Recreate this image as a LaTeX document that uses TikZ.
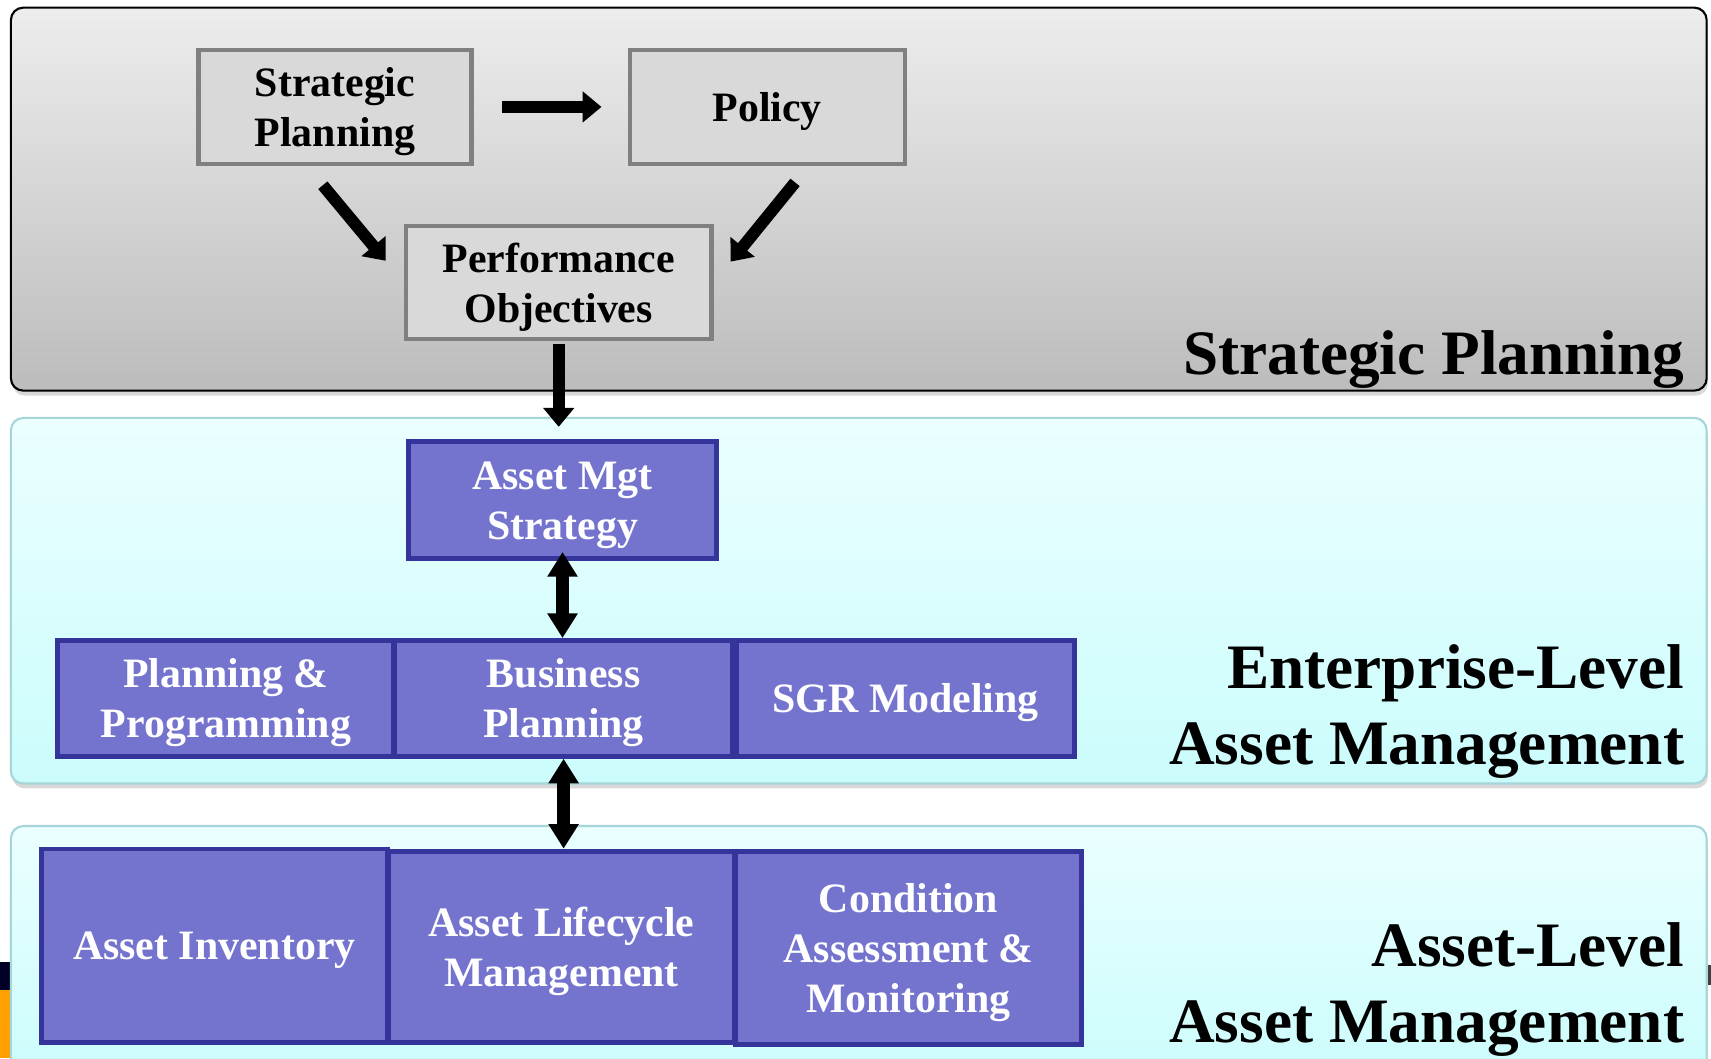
\documentclass[tikz,border=0pt]{standalone}
\usepackage{fontspec}
\setmainfont{Liberation Serif}
\usepackage{xcolor}
\usepackage{tikz}
\usetikzlibrary{calc, arrows.meta, shadows}

\newlength{\pxu}
\setlength{\pxu}{0.010912cm}
\definecolor{boxgray}{HTML}{D9D9D9}
\definecolor{boxedge}{HTML}{808080}
\definecolor{mgtblue}{HTML}{7474CF}
\definecolor{mgtedge}{HTML}{34349A}
\definecolor{bandtop}{HTML}{EDEDED}
\definecolor{bandbot}{HTML}{BCBCBC}
\definecolor{cyantop}{HTML}{EBFFFF}
\definecolor{cyanbot}{HTML}{CBFCFC}
\definecolor{cyanedge}{HTML}{A5D5D9}

\begin{document}
\begin{tikzpicture}[x=0.010912cm, y=-0.010912cm,
    boxtext/.style={font=\fontsize{11.9pt}{14.2pt}\selectfont\bfseries, align=center,
      text depth=-1.1pt, inner sep=0pt},
    graybox/.style={boxtext, rectangle, draw=boxedge, fill=boxgray, line width=1.2pt},
    bluebox/.style={boxtext, rectangle, draw=mgtedge, fill=mgtblue, text=white, line width=1.4pt},
    band/.style={rounded corners=3.5pt, line width=0.6pt,
      drop shadow={shadow xshift=0.4pt, shadow yshift=-1.4pt, opacity=0.3}},
    biglabel/.style={font=\fontsize{18pt}{21.7pt}\selectfont\bfseries, anchor=base east, inner sep=0pt},
    fatarrow/.style={line width=3.4pt, -{Triangle[width=8.6pt, length=5.4pt]}},
    dblarrow/.style={line width=3.5pt,
      {Triangle[width=8.2pt, length=7pt]}-{Triangle[width=8.2pt, length=7pt]}}]
  \useasboundingbox (0,0) rectangle (1568,970);
  \clip (0,0) rectangle (1568,970);
  \fill[white] (0,0) rectangle (1568,970);

  % Edge remnants
  \fill[black!85!blue] (0,882) rectangle (9,907);
  \fill[orange!75!yellow] (0,907) rectangle (9,970);
  \fill[black!75] (1565,884) rectangle (1568,903);

  % Bands
  \draw[band, draw=black, top color=bandtop, bottom color=bandbot] (10,7) rectangle (1564,358);
  \draw[band, draw=cyanedge, top color=cyantop, bottom color=cyanbot] (10,383) rectangle (1564,718);
  \draw[band, draw=cyanedge, top color=cyantop, bottom color=cyanbot] (10,757) rectangle (1564,990);

  % Strategic planning
  \node[graybox, minimum width=250*\pxu, minimum height=104*\pxu] (strat) at (307,98) {Strategic\\Planning};
  \node[graybox, minimum width=252*\pxu, minimum height=104*\pxu] (policy) at (703,98) {Policy};
  \node[graybox, minimum width=280*\pxu, minimum height=104*\pxu] (perf) at (512,259) {Performance\\Objectives};
  \node[biglabel] (splabel) at (1544,343) {Strategic Planning};

  % Enterprise level
  \node[bluebox, minimum width=283*\pxu, minimum height=107*\pxu] (amstrat) at (515.5,458.5) {Asset Mgt\\Strategy};
  \node[bluebox, minimum width=308*\pxu, minimum height=106*\pxu] (planprog) at (207,640) {Planning \&\\Programming};
  \node[bluebox, minimum width=309*\pxu, minimum height=106*\pxu] (busplan) at (516.5,640) {Business\\Planning};
  \node[bluebox, minimum width=310*\pxu, minimum height=106*\pxu] (sgr) at (830,640) {SGR Modeling};
  \node[biglabel] (entlabela) at (1544,631) {Enterprise-Level};
  \node[biglabel] (entlabelb) at (1544,701) {Asset Management};

  % Asset level
  \node[bluebox, minimum width=317*\pxu, minimum height=177*\pxu] (inventory) at (196.5,866.5) {Asset Inventory};
  \node[bluebox, minimum width=317*\pxu, minimum height=175*\pxu] (lifecycle) at (514.5,867.5) {Asset Lifecycle\\Management};
  \node[bluebox, minimum width=317*\pxu, minimum height=177*\pxu] (condition) at (832.5,868.5) {Condition\\Assessment \&\\Monitoring};
  \node[biglabel] (astlabela) at (1544,886) {Asset-Level};
  \node[biglabel] (astlabelb) at (1544,955) {Asset Management};

  % Arrows
  \draw[fatarrow, shorten <=8.2pt, shorten >=7.4pt] (strat) -- (policy);
  \draw[fatarrow, shorten <=7.2pt, shorten >=8.1pt] ($(strat.south)+(-26,0)$) -- (perf.west);
  \draw[fatarrow, shorten <=6.1pt, shorten >=7.7pt] ($(policy.south)+(38,0)$) -- (perf.east);
  \draw[fatarrow, shorten <=0.6pt, shorten >=3.6pt] (perf.south) -- (perf.south |- amstrat.north);
  \draw[dblarrow, shorten <=-2.6pt] (amstrat.south) -- (amstrat.south |- busplan.north);
  \draw[dblarrow] (busplan.south) -- (busplan.south |- lifecycle.north);
\end{tikzpicture}
\end{document}
